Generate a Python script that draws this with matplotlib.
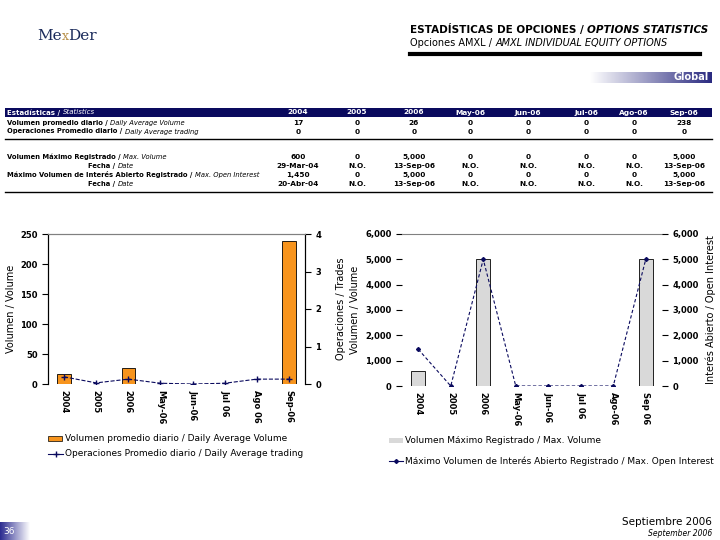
import numpy as np
import matplotlib
matplotlib.use('Agg')
import matplotlib.pyplot as plt
from matplotlib.patches import Rectangle
from matplotlib.lines import Line2D

# datos
cats_left = ['2004', '2005', '2006', 'May-06', 'Jun-06', 'Jul 06', 'Ago 06', 'Sep-06']
cats_right = ['2004', '2005', '2006', 'May-06', 'Jun-06', 'Jul 06', 'Ago-06', 'Sep 06']
vol_prom = [17, 0, 26, 0, 0, 0, 0, 238]
ops_prom = [0.19, 0.03, 0.13, 0.02, 0.0, 0.02, 0.13, 0.13]
vol_max = [600, 0, 5000, 0, 0, 0, 0, 5000]
oi_max = [1450, 0, 5000, 0, 0, 0, 0, 5000]

tab_cols = ['2004', '2005', '2006', 'May-06', 'Jun-06', 'Jul-06', 'Ago-06', 'Sep-06']
tab_rows = [
    ('Volumen promedio diario / ', 'Daily Average Volume', ['17', '0', '26', '0', '0', '0', '0', '238']),
    ('Operaciones Promedio diario / ', 'Daily Average trading', ['0', '0', '0', '0', '0', '0', '0', '0']),
    ('Volumen Máximo Registrado / ', 'Max. Volume', ['600', '0', '5,000', '0', '0', '0', '0', '5,000']),
    ('Fecha / ', 'Date', ['29-Mar-04', 'N.O.', '13-Sep-06', 'N.O.', 'N.O.', 'N.O.', 'N.O.', '13-Sep-06']),
    ('Máximo Volumen de Interés Abierto Registrado / ', 'Max. Open Interest', ['1,450', '0', '5,000', '0', '0', '0', '0', '5,000']),
    ('Fecha / ', 'Date', ['20-Abr-04', 'N.O.', '13-Sep-06', 'N.O.', 'N.O.', 'N.O.', 'N.O.', '13-Sep-06']),
]

navy = '#0A0A5E'
W, H = 720, 540
fig = plt.figure(figsize=(7.2, 5.4), dpi=100)

def fx(x):
    return x / W

def fy(y):
    return 1 - y / H

renderer = fig.canvas.get_renderer()

def chain(x0, y, parts, **kw):
    # escribe varios trozos de texto seguidos en la misma linea
    x = fx(x0)
    for s, extra in parts:
        opts = dict(kw)
        opts.update(extra)
        t = fig.text(x, fy(y), s, va='center', **opts)
        x += t.get_window_extent(renderer).width / W
    return x

# cabecera
chain(37, 36, [('Me', dict(color='#1A2A5A')), ('x', dict(color='#B8904A', fontsize=9)),
               ('Der', dict(color='#1A2A5A'))], fontsize=11, family='DejaVu Serif')

chain(410, 30, [('ESTADÍSTICAS DE OPCIONES / ', {}), ('OPTIONS STATISTICS', dict(style='italic'))],
      fontsize=7.5, weight='bold')
chain(410, 43, [('Opciones AMXL / ', {}), ('AMXL INDIVIDUAL EQUITY OPTIONS', dict(style='italic'))],
      fontsize=7)
fig.add_artist(Line2D([fx(410), fx(700)], [fy(54), fy(54)], color='black', lw=3))

# barra "Global" con degradado
grad = np.linspace(0, 1, 256).reshape(1, -1)
gax = fig.add_axes([fx(590), fy(83), fx(712) - fx(590), 11 / H])
gax.imshow(grad, aspect='auto', cmap=matplotlib.colors.LinearSegmentedColormap.from_list('g', ['white', '#2A2A80']))
gax.axis('off')
gax.text(0.97, 0.5, 'Global', transform=gax.transAxes, color='white', fontsize=7, weight='bold', ha='right', va='center')

# tabla
fig.patches.append(Rectangle((fx(5), fy(117)), fx(712) - fx(5), 9 / H, transform=fig.transFigure,
                             facecolor=navy, edgecolor='none'))
chain(7, 112.5, [('Estadísticas / ', dict(weight='bold')), ('Statistics', dict(style='italic'))],
      fontsize=5, color='white')
col_x = [298, 357, 414, 470, 528, 586, 634, 684]
for c, x in zip(tab_cols, col_x):
    fig.text(fx(x), fy(112.5), c, fontsize=5.3, weight='bold', color='white', ha='center', va='center')

row_y = [123, 131.5, 157, 166, 175, 184]
for (es, en, vals), y in zip(tab_rows, row_y):
    x0 = 88 if es.startswith('Fecha') else 7
    chain(x0, y, [(es, dict(weight='bold')), (en, dict(style='italic'))], fontsize=4.9)
    for v, x in zip(vals, col_x):
        fig.text(fx(x), fy(y), v, fontsize=5.3, weight='bold', ha='center', va='center')
fig.add_artist(Line2D([fx(5), fx(712)], [fy(139), fy(139)], color='black', lw=1))
fig.add_artist(Line2D([fx(5), fx(712)], [fy(192), fy(192)], color='black', lw=1))

tick_kw = dict(labelsize=6, width=0.8, length=4)
k_labels = ['0', '1,000', '2,000', '3,000', '4,000', '5,000', '6,000']

# grafica izquierda
ax1 = fig.add_axes([fx(48), fy(384), (305 - 48) / W, (384 - 234) / H])
x = np.arange(len(cats_left))
ax1.bar(x, vol_prom, width=0.42, color='#F7941D', edgecolor='black', linewidth=0.6)
ax1.set_xlim(-0.5, 7.5)
ax1.set_ylim(0, 250)
ax1.set_yticks([0, 50, 100, 150, 200, 250])
ax1.set_xticks(x)
ax1.set_xticklabels(cats_left, rotation=-90, fontsize=6, weight='bold')
ax1.tick_params(axis='x', length=0, pad=4)
ax1.tick_params(axis='y', **tick_kw)
for lab in ax1.get_yticklabels():
    lab.set_weight('bold')
ax1.set_ylabel('Volumen / Volume', fontsize=7)
ax1.yaxis.set_label_coords((16 - 48) / 257, 0.5)
ax1.spines['bottom'].set_visible(False)
ax1.spines['top'].set_color('#808080')
ax1b = ax1.twinx()
ax1b.plot(x, ops_prom, color=navy, linestyle='--', lw=0.8, marker='+', markersize=4, mew=1)
ax1b.set_ylim(0, 4)
ax1b.set_yticks([0, 1, 2, 3, 4])
ax1b.tick_params(axis='y', **tick_kw)
for lab in ax1b.get_yticklabels():
    lab.set_weight('bold')
ax1b.set_ylabel('Operaciones / Trades', fontsize=7)
ax1b.yaxis.set_label_coords((336 - 48) / 257, 0.5)
ax1b.spines['bottom'].set_visible(False)
ax1b.spines['top'].set_color('#808080')

# grafica derecha
ax2 = fig.add_axes([fx(402), fy(386), (662 - 402) / W, (386 - 234) / H])
x = np.arange(len(cats_right))
ax2.bar(x, vol_max, width=0.42, color='#D9D9D9', edgecolor='black', linewidth=0.6)
ax2.set_xlim(-0.5, 7.5)
ax2.set_ylim(0, 6000)
ax2.set_yticks(np.arange(0, 6001, 1000))
ax2.set_yticklabels(k_labels)
ax2.set_xticks(x)
ax2.set_xticklabels(cats_right, rotation=-90, fontsize=6, weight='bold')
ax2.tick_params(axis='x', length=0, pad=4)
ax2.tick_params(axis='y', **tick_kw)
for lab in ax2.get_yticklabels():
    lab.set_weight('bold')
ax2.set_ylabel('Volumen / Volume', fontsize=7)
ax2.yaxis.set_label_coords((360 - 402) / 260, 0.5)
for s in ['left', 'bottom', 'right']:
    ax2.spines[s].set_visible(False)
ax2.spines['top'].set_color('#808080')
ax2b = ax2.twinx()
ax2b.plot(x, oi_max, color=navy, linestyle=(0, (3, 2)), lw=0.8, marker='D', markersize=2)
ax2b.set_ylim(0, 6000)
ax2b.set_yticks(np.arange(0, 6001, 1000))
ax2b.set_yticklabels(k_labels)
ax2b.tick_params(axis='y', **tick_kw)
for lab in ax2b.get_yticklabels():
    lab.set_weight('bold')
ax2b.set_ylabel('Interés Abierto / Open Interest', fontsize=7)
ax2b.yaxis.set_label_coords((706 - 402) / 260, 0.5)
for s in ['left', 'bottom', 'right', 'top']:
    ax2b.spines[s].set_visible(False)

# leyendas
fig.patches.append(Rectangle((fx(48), fy(441)), 14 / W, 5 / H, transform=fig.transFigure,
                             facecolor='#F7941D', edgecolor='black', lw=0.5))
fig.text(fx(65), fy(438.5), 'Volumen promedio diario / Daily Average Volume', fontsize=6.5, va='center')
fig.add_artist(Line2D([fx(48), fx(55.5), fx(63)], [fy(454)] * 3, color=navy, lw=0.8,
                      marker='+', markevery=[1], markersize=4))
fig.text(fx(65), fy(454), 'Operaciones Promedio diario / Daily Average trading', fontsize=6.5, va='center')

fig.patches.append(Rectangle((fx(389), fy(443)), 14 / W, 5 / H, transform=fig.transFigure,
                             facecolor='#D9D9D9', edgecolor='none'))
fig.text(fx(405), fy(440.5), 'Volumen Máximo Registrado / Max. Volume', fontsize=6.5, va='center')
fig.add_artist(Line2D([fx(389), fx(396), fx(403)], [fy(461)] * 3, color=navy, lw=0.8,
                      marker='D', markevery=[1], markersize=2))
fig.text(fx(405), fy(461), 'Máximo Volumen de Interés Abierto Registrado / Max. Open Interest', fontsize=6.5, va='center')

# pie de pagina
fig.text(fx(712), fy(522), 'Septiembre 2006', fontsize=7.5, ha='right', va='center')
fig.text(fx(712), fy(533), 'September 2006', fontsize=5.5, style='italic', ha='right', va='center')
pax = fig.add_axes([0, 0, 30 / W, 18 / H])
pax.imshow(grad, aspect='auto', cmap=matplotlib.colors.LinearSegmentedColormap.from_list('p', ['#2A2A90', 'white']))
pax.axis('off')
pax.text(0.3, 0.45, '36', transform=pax.transAxes, color='white', fontsize=6.5, ha='center', va='center')

fig.savefig('out.png', dpi=100)
